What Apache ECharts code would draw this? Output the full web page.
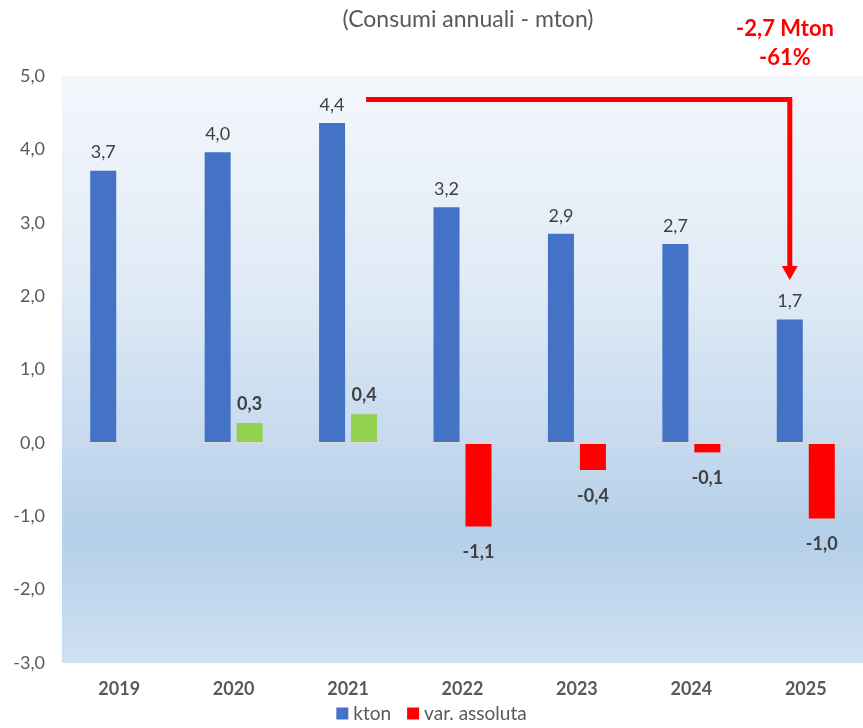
<!DOCTYPE html>
<html>
<head>
<meta charset="utf-8">
<script src="https://cdn.jsdelivr.net/npm/echarts@6/dist/echarts.min.js"></script>
<style>
  html, body { margin: 0; padding: 0; background: #fff; }
  #chart { width: 863px; height: 728px; }
</style>
</head>
<body>
<div id="chart"></div>
<script>
// dati
var years = ['2019', '2020', '2021', '2022', '2023', '2024', '2025'];
var kton = [3.71, 3.96, 4.36, 3.21, 2.85, 2.71, 1.68];
var varAssoluta = [null, 0.27, 0.39, -1.14, -0.37, -0.13, -1.03];
var yTicks = { min: -3, max: 5, step: 1 };

var FONT = 'Lato, "Open Sans", sans-serif';

function fmt(v) {
    return v.toFixed(1).replace('.', ',');
}

var varData = varAssoluta.map(function (v) {
    if (v === null) {
        return null;
    }
    return {
        value: v,
        itemStyle: { color: v >= 0 ? '#92d050' : '#ff0000' },
        label: { position: v >= 0 ? 'top' : 'bottom', distance: v >= 0 ? 10 : 17 }
    };
});

// riduzione tra il picco (2021) e l'ultimo anno
var peakIdx = 2;
var lastIdx = years.length - 1;
var delta = kton[lastIdx] - kton[peakIdx];
var deltaPct = Math.round(delta / kton[peakIdx] * 100);
var annot = fmt(delta) + ' Mton\n' + deltaPct + '%';

var chart = echarts.init(document.getElementById('chart'));

var option = {
    backgroundColor: '#ffffff',
    animation: false,
    textStyle: { fontFamily: FONT },
    title: [
        {
            text: '(Consumi annuali - mton)',
            left: 463,
            top: 3,
            textAlign: 'center',
            textStyle: { fontFamily: FONT, fontSize: 23, fontWeight: 'normal', color: '#595959' }
        },
        {
            text: annot,
            left: 780,
            top: 9,
            textAlign: 'center',
            textStyle: { fontFamily: FONT, fontSize: 22, fontWeight: 'bold', color: '#ff0000', lineHeight: 29 }
        }
    ],
    legend: {
        bottom: 0,
        left: 'center',
        icon: 'rect',
        itemWidth: 12,
        itemHeight: 12,
        itemGap: 16,
        textStyle: { fontFamily: FONT, fontSize: 19, color: '#595959' },
        data: ['kton', 'var. assoluta']
    },
    grid: {
        left: 62,
        right: -4,
        top: 76,
        bottom: 65,
        show: true,
        borderWidth: 0,
        backgroundColor: new echarts.graphic.LinearGradient(0, 0, 0, 1, [
            { offset: 0, color: '#f4f7fc' },
            { offset: 0.35, color: '#e0ebf6' },
            { offset: 0.62, color: '#c6daef' },
            { offset: 0.78, color: '#b4cfe9' },
            { offset: 1, color: '#cfe0f2' }
        ])
    },
    xAxis: {
        type: 'category',
        data: years,
        axisLine: { show: false, onZero: false },
        axisTick: { show: false },
        axisLabel: { margin: 17, fontFamily: FONT, fontSize: 18, fontWeight: 'bold', color: '#595959' }
    },
    yAxis: {
        type: 'value',
        min: yTicks.min,
        max: yTicks.max,
        interval: yTicks.step,
        splitLine: { show: false },
        axisLine: { show: false },
        axisTick: { show: false },
        axisLabel: {
            margin: 17,
            fontFamily: FONT,
            fontSize: 18,
            color: '#595959',
            formatter: function (v) { return fmt(v); }
        }
    },
    series: [
        {
            name: 'kton',
            type: 'bar',
            data: kton,
            barWidth: 26,
            barGap: '23%',
            itemStyle: { color: '#4472c4' },
            label: {
                show: true,
                position: 'top',
                distance: 9,
                fontFamily: FONT,
                fontSize: 18,
                color: '#404040',
                formatter: function (p) { return fmt(p.value); }
            },
            markLine: {
                silent: true,
                symbol: 'none',
                label: { show: false },
                lineStyle: { color: '#d9d9d9', width: 2, type: 'solid' },
                data: [{ yAxis: 0 }]
            }
        },
        {
            name: 'var. assoluta',
            type: 'bar',
            data: varData,
            barWidth: 26,
            itemStyle: { color: '#ff0000' },
            label: {
                show: true,
                fontFamily: FONT,
                fontSize: 18,
                fontWeight: 'bold',
                color: '#404040',
                formatter: function (p) { return fmt(p.value); }
            }
        }
    ]
};

chart.setOption(option);

// freccia rossa dal picco al 2025, posizionata tramite le scale del grafico
var arrowLevel = 4.68;
var start = chart.convertToPixel({ seriesIndex: 0 }, [peakIdx, arrowLevel]);
var corner = chart.convertToPixel({ seriesIndex: 0 }, [lastIdx, arrowLevel]);
var tip = chart.convertToPixel({ seriesIndex: 0 }, [lastIdx, kton[lastIdx] + 0.54]);
var barOffset = -16;
var x0 = start[0] + barOffset + 34;
var x1 = corner[0] + barOffset;
var head = 14;

chart.setOption({
    graphic: [
        {
            type: 'polyline',
            shape: { points: [[x0, start[1]], [x1, corner[1]], [x1, tip[1] - head]] },
            style: { stroke: '#ff0000', lineWidth: 5, fill: null, lineJoin: 'miter' },
            z: 100
        },
        {
            type: 'polygon',
            shape: { points: [[x1 - 8, tip[1] - head], [x1 + 8, tip[1] - head], [x1, tip[1]]] },
            style: { fill: '#ff0000' },
            z: 100
        }
    ]
});
</script>
</body>
</html>
